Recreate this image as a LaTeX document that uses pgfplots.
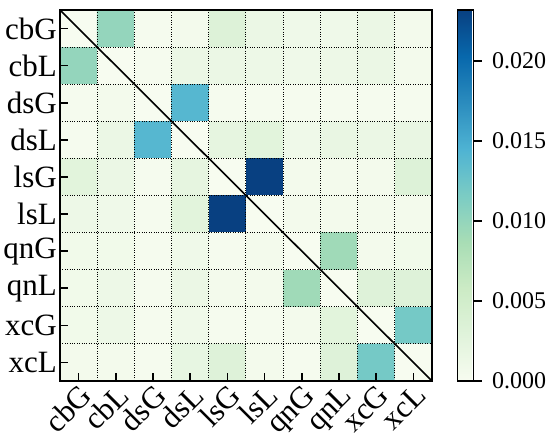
\documentclass[border=0pt]{standalone}
\usepackage{pgfplots}
\pgfplotsset{compat=1.18}
\usepackage{fontspec}
\setmainfont{Liberation Serif}
\pgfplotsset{colormap={gnbu}{rgb255=(247,252,240) rgb255=(224,243,219) rgb255=(204,235,197) rgb255=(168,221,181) rgb255=(123,204,196) rgb255=(78,179,211) rgb255=(43,140,190) rgb255=(8,104,172) rgb255=(8,64,129)}}
\begin{document}
\begin{tikzpicture}
\begin{axis}[
  name=ax,
  scale only axis,
  width=372pt, height=371pt,
  colormap name=gnbu,
  xmin=-0.5, xmax=9.5, ymin=-0.5, ymax=9.5,
  y dir=reverse,
  axis on top,
  xtick={0,...,9}, ytick={0,...,9},
  xticklabels={cbG,cbL,dsG,dsL,lsG,lsL,qnG,qnL,xcG,xcL},
  yticklabels={cbG,cbL,dsG,dsL,lsG,lsL,qnG,qnL,xcG,xcL},
  xtick pos=bottom, ytick pos=left,
  tick align=inside,
  major tick length=8pt,
  tick style={black, line width=1.6pt},
  minor xtick={0.5,1.5,...,8.5}, minor ytick={0.5,1.5,...,8.5},
  minor tick length=0pt,
  xminorgrids, yminorgrids,
  minor grid style={black, dotted, line width=1pt},
  axis line style={line width=1.8pt},
  xticklabel style={font=\fontsize{31}{36}\selectfont, rotate=45, anchor=north east, inner sep=1pt},
  yticklabel style={font=\fontsize{31}{36}\selectfont, inner sep=3pt},
  point meta min=0, point meta max=0.0232,
  colorbar,
  colorbar style={
    at={(parent axis.north east)}, anchor=north west, xshift=17pt,
    width=16pt,
    ytick={0,0.005,0.01,0.015,0.02},
    scaled y ticks=false,
    yticklabel style={font=\fontsize{24}{28}\selectfont, xshift=7pt, /pgf/number format/.cd, fixed, fixed zerofill, precision=3, assume math mode=true},
    ytick pos=right, tick align=outside,
    major tick length=8pt,
    tick style={black, line width=1.4pt},
    axis line style={line width=1.4pt},
  },
]
\addplot[matrix plot*, mesh/cols=10, point meta=explicit] table[meta=c] {
x y c
0 0 0
1 0 0.0100
2 0 0.0003
3 0 0.0005
4 0 0.0033
5 0 0.0015
6 0 0.0010
7 0 0.0010
8 0 0.0015
9 0 0.0005
0 1 0.0100
1 1 0
2 1 0.0003
3 1 0.0015
4 1 0.0015
5 1 0.0012
6 1 0.0010
7 1 0.0012
8 1 0.0015
9 1 0.0005
0 2 0.0003
1 2 0.0005
2 2 0
3 2 0.0140
4 2 0.0003
5 2 0.0003
6 2 0.0003
7 2 0.0003
8 2 0.0003
9 2 0.0003
0 3 0.0003
1 3 0.0015
2 3 0.0140
3 3 0
4 3 0.0022
5 3 0.0027
6 3 0.0010
7 3 0.0018
8 3 0.0015
9 3 0.0018
0 4 0.0027
1 4 0.0015
2 4 0.0003
3 4 0.0022
4 4 0
5 4 0.0233
6 4 0.0005
7 4 0.0005
8 4 0.0005
9 4 0.0033
0 5 0.0012
1 5 0.0010
2 5 0.0003
3 5 0.0027
4 5 0.0233
5 5 0
6 5 0.0005
7 5 0.0005
8 5 0.0005
9 5 0.0005
0 6 0.0008
1 6 0.0008
2 6 0.0003
3 6 0.0010
4 6 0.0003
5 6 0.0005
6 6 0
7 6 0.0092
8 6 0.0005
9 6 0.0008
0 7 0.0008
1 7 0.0012
2 7 0.0003
3 7 0.0015
4 7 0.0005
5 7 0.0005
6 7 0.0092
7 7 0
8 7 0.0032
9 7 0.0032
0 8 0.0008
1 8 0.0012
2 8 0.0003
3 8 0.0010
4 8 0.0003
5 8 0.0003
6 8 0.0005
7 8 0.0027
8 8 0
9 8 0.0120
0 9 0.0005
1 9 0.0005
2 9 0.0003
3 9 0.0020
4 9 0.0032
5 9 0.0005
6 9 0.0003
7 9 0.0032
8 9 0.0120
9 9 0
};
\addplot[black, line width=1.6pt] coordinates {(-0.5,-0.5) (9.5,9.5)};
\end{axis}
\path[use as bounding box] ([xshift=-60pt,yshift=-49pt]ax.south west) rectangle ([xshift=119pt,yshift=10pt]ax.north east);
\end{tikzpicture}
\end{document}
